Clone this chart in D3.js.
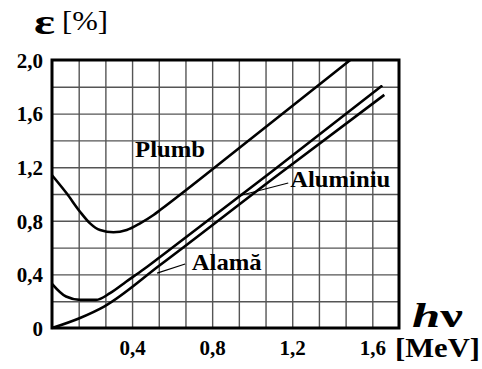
<!DOCTYPE html>
<html>
<head>
<meta charset="utf-8">
<script src="https://cdn.jsdelivr.net/npm/d3@7"></script>
<style>
  html, body { margin: 0; padding: 0; background: #fff; }
  svg { display: block; }
  text { font-family: "Liberation Serif", "Times New Roman", serif; fill: #000; }
  .tick-label { font-weight: bold; font-size: 21px; }
  .curve-label { font-weight: bold; font-size: 23px; }
</style>
</head>
<body>
<div id="chart"></div>
<script>
// ---- data ----
const xTickValues = [0.4, 0.8, 1.2, 1.6];
const yTickValues = [0, 0.4, 0.8, 1.2, 1.6, 2.0];
const xGridStep = 0.4 / 3;   // three grid columns per labelled tick
const yGridStep = 0.2;

// Plumb
const plumbE   = [0, 0.073, 0.14, 0.19, 0.24, 0.307, 0.373, 0.44, 0.507, 0.54, 1.00, 1.49];
const plumbEps = [1.14, 1.005, 0.868, 0.781, 0.731, 0.714, 0.731, 0.781, 0.843, 0.88, 1.42, 2.00];

// Aluminiu
const aluE   = [0, 0.07, 0.14, 0.22, 0.29, 0.37, 0.46, 0.54, 1.10, 1.65];
const aluEps = [0.33, 0.235, 0.21, 0.21, 0.26, 0.345, 0.44, 0.53, 1.17, 1.81];

// Alama
const alamaE   = [0, 0.14, 0.26, 0.54, 1.10, 1.66];
const alamaEps = [0, 0.075, 0.16, 0.47, 1.11, 1.74];

const width = 482, height = 369;
const margin = { top: 60, left: 52, right: 83, bottom: 41 };
const plotW = width - margin.left - margin.right;
const plotH = height - margin.top - margin.bottom;

const xMax = 13 * xGridStep;
const xScale = d3.scaleLinear().domain([0, xMax]).range([0, plotW]);
const yScale = d3.scaleLinear().domain([0, 2.0]).range([plotH, 0]);

const fmt = v => v === 0 ? "0" : d3.format(".1f")(v).replace(".", ",");

const svg = d3.select("#chart").append("svg")
  .attr("width", width)
  .attr("height", height);

const chart = svg.append("g")
  .attr("transform", `translate(${margin.left}, ${margin.top})`);

// grid
const xGrid = d3.range(1, 13).map(i => i * xGridStep);
const yGrid = d3.range(1, 10).map(i => i * yGridStep);

chart.append("g")
  .call(d3.axisBottom(xScale).tickValues(xGrid).tickSize(-plotH).tickFormat(""))
  .attr("transform", `translate(0, ${plotH})`)
  .call(g => g.select(".domain").remove())
  .selectAll("line").attr("stroke", "#555").attr("stroke-width", 1.4);

chart.append("g")
  .call(d3.axisLeft(yScale).tickValues(yGrid).tickSize(-plotW).tickFormat(""))
  .call(g => g.select(".domain").remove())
  .selectAll("line").attr("stroke", "#555").attr("stroke-width", 1.4);

// frame
chart.append("rect")
  .attr("x", 0).attr("y", 0)
  .attr("width", plotW).attr("height", plotH)
  .attr("fill", "none").attr("stroke", "#000").attr("stroke-width", 3);

// tick labels
const yAxis = chart.append("g")
  .call(d3.axisLeft(yScale).tickValues(yTickValues).tickSize(0).tickPadding(9).tickFormat(fmt));
yAxis.select(".domain").remove();
yAxis.selectAll("text").attr("class", "tick-label").attr("dy", "0.35em");

const xAxis = chart.append("g")
  .attr("transform", `translate(0, ${plotH})`)
  .call(d3.axisBottom(xScale).tickValues(xTickValues).tickSize(0).tickPadding(12).tickFormat(fmt));
xAxis.select(".domain").remove();
xAxis.selectAll("text").attr("class", "tick-label");

// curves
const line = d3.line()
  .x(d => xScale(d[0]))
  .y(d => yScale(d[1]))
  .curve(d3.curveMonotoneX);

const series = [
  d3.zip(plumbE, plumbEps),
  d3.zip(aluE, aluEps),
  d3.zip(alamaE, alamaEps)
];

chart.selectAll(".curve")
  .data(series)
  .enter()
  .append("path")
  .attr("class", "curve")
  .attr("d", line)
  .attr("fill", "none")
  .attr("stroke", "#000")
  .attr("stroke-width", 2.6)
  .attr("stroke-linejoin", "round");

// curve labels and leader lines
chart.append("text").attr("class", "curve-label")
  .attr("x", xScale(0.415)).attr("y", yScale(1.276))
  .attr("textLength", 70).attr("lengthAdjust", "spacingAndGlyphs")
  .text("Plumb");

chart.append("text").attr("class", "curve-label")
  .attr("x", xScale(1.19)).attr("y", yScale(1.052))
  .attr("textLength", 100).attr("lengthAdjust", "spacingAndGlyphs")
  .text("Aluminiu");
chart.append("line")
  .attr("x1", xScale(1.18)).attr("y1", yScale(1.082))
  .attr("x2", xScale(0.93)).attr("y2", yScale(0.985))
  .attr("stroke", "#000").attr("stroke-width", 1.2);

chart.append("text").attr("class", "curve-label")
  .attr("x", xScale(0.698)).attr("y", yScale(0.433))
  .attr("textLength", 70).attr("lengthAdjust", "spacingAndGlyphs")
  .text("Alamă");
chart.append("line")
  .attr("x1", xScale(0.665)).attr("y1", yScale(0.478))
  .attr("x2", xScale(0.525)).attr("y2", yScale(0.41))
  .attr("stroke", "#000").attr("stroke-width", 1.2);

// axis titles
svg.append("text")
  .attr("x", 34).attr("y", 34)
  .attr("font-size", 36).attr("font-weight", "bold")
  .attr("textLength", 21).attr("lengthAdjust", "spacingAndGlyphs")
  .text("ε");
svg.append("text")
  .attr("x", 62).attr("y", 30)
  .attr("font-size", 27)
  .attr("textLength", 46).attr("lengthAdjust", "spacingAndGlyphs")
  .text("[%]");

const xTitle = svg.append("text")
  .attr("x", 412).attr("y", 327)
  .attr("font-weight", "bold").attr("font-size", 34)
  .attr("textLength", 51).attr("lengthAdjust", "spacingAndGlyphs");
xTitle.append("tspan").attr("font-style", "italic").text("h");
xTitle.append("tspan").text("ν");

svg.append("text")
  .attr("x", 395).attr("y", 357)
  .attr("font-weight", "bold").attr("font-size", 27)
  .attr("textLength", 85).attr("lengthAdjust", "spacingAndGlyphs")
  .text("[MeV]");
</script>
</body>
</html>
